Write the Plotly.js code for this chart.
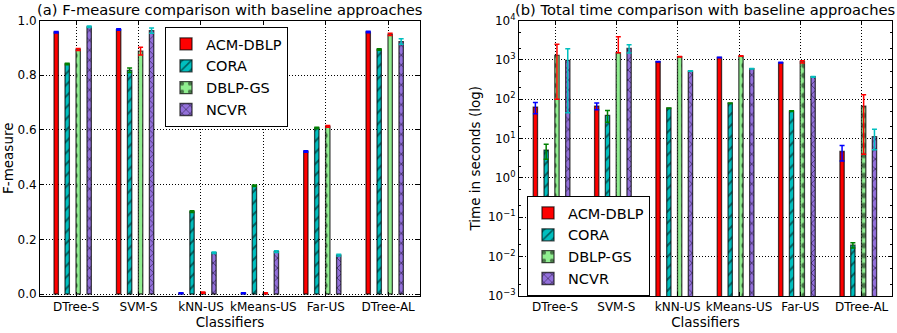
<!DOCTYPE html>
<html>
<head>
<meta charset="utf-8">
<script src="https://cdn.plot.ly/plotly-3.0.1.min.js"></script>
<style>html,body{margin:0;padding:0;background:#fff;}#chart{width:897px;height:333px;}</style>
</head>
<body>
<div id="chart"></div>
<script>
// ---- data ----
const categories = ['DTree-S', 'SVM-S', 'kNN-US', 'kMeans-US', 'Far-US', 'DTree-AL'];
const seriesNames = ['ACM-DBLP', 'CORA', 'DBLP-GS', 'NCVR'];

// (a) F-measure
const fAcm  = [0.957, 0.967, 0.003, 0.003, 0.521, 0.958];
const fCora = [0.841, 0.818, 0.301, 0.396, 0.607, 0.894];
const fDblp = [0.894, 0.888, 0.005, 0.003, 0.613, 0.949];
const fNcvr = [0.977, 0.963, 0.151, 0.155, 0.142, 0.923];
const fAcmErr  = [0.003, 0.003, 0.002, 0.002, 0.003, 0.003];
const fCoraErr = [0.003, 0.008, 0.003, 0.003, 0.003, 0.003];
const fDblpErr = [0.004, 0.014, 0.002, 0.002, 0.003, 0.004];
const fNcvrErr = [0.003, 0.010, 0.003, 0.003, 0.003, 0.010];

// (b) Total time (seconds)
const tAcm  = [63, 67, 895, 1150, 850, 4.7];
const tCora = [5.1, 39, 59, 79, 50, 0.0196];
const tDblp = [1300, 1510, 1200, 1250, 895, 67];
const tNcvr = [975, 1950, 520, 595, 372, 11.2];
const tAcmErr  = [20, 13, 15, 20, 15, 2];
const tCoraErr = [2.1, 13, 1, 1, 1, 0.003];
const tDblpErrPlus  = [1200, 2370, 20, 20, 60, 63];
const tDblpErrMinus = [1200, 0, 20, 20, 60, 63];
const tNcvrErr = [930, 460, 10, 10, 8, 6];

// ---- styles ----
const fills = ['#ff0000', '#00bfbf', '#90ee90', '#9370db'];
const errColors = ['#0000ff', '#008000', '#ff0000', '#00bfbf'];
const patterns = [
  {shape: ''},
  {shape: '/', fgcolor: '#000', bgcolor: '#00bfbf', size: 8, solidity: 0.25, fillmode: 'overlay'},
  {shape: '.', fgcolor: '#000', bgcolor: '#90ee90', size: 10, solidity: 0.22, fillmode: 'overlay'},
  {shape: 'x', fgcolor: '#000', bgcolor: '#9370db', size: 7, solidity: 0.25, fillmode: 'overlay'}
];
const barW = 0.07;
const centers = [-0.32, -0.144, 0.032, 0.208];
const FONT = 'DejaVu Sans, Verdana, sans-serif';

const fVals = [fAcm, fCora, fDblp, fNcvr];
const fErrs = [fAcmErr, fCoraErr, fDblpErr, fNcvrErr];
const tVals = [tAcm, tCora, tDblp, tNcvr];
const tErrP = [tAcmErr, tCoraErr, tDblpErrPlus, tNcvrErr];
const tErrM = [tAcmErr, tCoraErr, tDblpErrMinus, tNcvrErr];

const traces = [];
for (let k = 0; k < 4; k++) {
  traces.push({
    type: 'bar', name: seriesNames[k], x: categories, y: fVals[k],
    xaxis: 'x', yaxis: 'y', legend: 'legend',
    width: barW, offset: centers[k] - barW / 2,
    marker: {color: fills[k], line: {color: 'rgba(0,0,0,0.7)', width: 1.3}, pattern: patterns[k]},
    error_y: {type: 'data', array: fErrs[k], visible: true, color: errColors[k], thickness: 1.5, width: 2.5}
  });
}
for (let k = 0; k < 4; k++) {
  traces.push({
    type: 'bar', name: seriesNames[k], x: categories, y: tVals[k],
    xaxis: 'x2', yaxis: 'y2', legend: 'legend2',
    width: barW, offset: centers[k] - barW / 2,
    marker: {color: fills[k], line: {color: 'rgba(0,0,0,0.7)', width: 1.3}, pattern: patterns[k]},
    error_y: {type: 'data', symmetric: false, array: tErrP[k], arrayminus: tErrM[k], visible: true, color: errColors[k], thickness: 1.5, width: 2.5}
  });
}

const axisCommon = {
  showline: true, linecolor: '#000', linewidth: 1, mirror: 'allticks',
  ticks: 'inside', ticklen: 4, tickcolor: '#000',
  showgrid: true, gridcolor: '#000', griddash: '1px,2px', gridwidth: 1,
  zeroline: false, tickfont: {family: FONT, size: 12, color: '#000'}
};
const yDom = [1 - 296 / 333, 1 - 20.5 / 333];

const layout = {
  width: 897, height: 333,
  margin: {l: 0, r: 0, t: 0, b: 0},
  paper_bgcolor: '#fff', plot_bgcolor: '#fff',
  barmode: 'overlay', showlegend: true,
  font: {family: FONT, color: '#000'},
  xaxis: Object.assign({}, axisCommon, {
    domain: [40 / 897, 420 / 897], type: 'category', range: [-0.58, 5.51],
    anchor: 'y', automargin: false,
    title: {text: 'Classifiers', font: {family: FONT, size: 13.5}, standoff: 2}
  }),
  yaxis: Object.assign({}, axisCommon, {
    domain: yDom, range: [-0.0073, 1.0], anchor: 'x', automargin: false,
    tickvals: [0, 0.2, 0.4, 0.6, 0.8, 1.0], tickformat: '.1f',
    title: {text: 'F-measure', font: {family: FONT, size: 13.5}, standoff: 4}
  }),
  xaxis2: Object.assign({}, axisCommon, {
    domain: [519 / 897, 892 / 897], type: 'category', range: [-0.587, 5.494],
    anchor: 'y2', automargin: false,
    title: {text: 'Classifiers', font: {family: FONT, size: 13.5}, standoff: 2}
  }),
  yaxis2: Object.assign({}, axisCommon, {
    domain: yDom, type: 'log', range: [-3, 4], anchor: 'x2', automargin: false,
    tickvals: [0.001, 0.01, 0.1, 1, 10, 100, 1000, 10000],
    ticktext: ['10<sup>\u22123</sup>', '10<sup>\u22122</sup>', '10<sup>\u22121</sup>', '10<sup>0</sup>', '10<sup>1</sup>', '10<sup>2</sup>', '10<sup>3</sup>', '10<sup>4</sup>'],
    minor: {ticks: 'inside', ticklen: 2, tickcolor: '#000', showgrid: false},
    title: {text: 'Time in seconds (log)', font: {family: FONT, size: 13.5}, standoff: 4}
  }),
  legend: {
    x: 165 / 897, y: 1 - 27 / 333, xanchor: 'left', yanchor: 'top',
    bgcolor: '#fff', bordercolor: '#000', borderwidth: 1,
    font: {family: FONT, size: 14.5, color: '#000'}
  },
  legend2: {
    x: 527 / 897, y: 1 - 196 / 333, xanchor: 'left', yanchor: 'top',
    bgcolor: '#fff', bordercolor: '#000', borderwidth: 1,
    font: {family: FONT, size: 14.5, color: '#000'}
  },
  annotations: [
    {text: '(a) F-measure comparison with baseline approaches', xref: 'paper', yref: 'paper',
     x: 230 / 897, y: 1 - 10 / 333, xanchor: 'center', yanchor: 'middle', showarrow: false,
     font: {family: FONT, size: 14.7, color: '#000'}},
    {text: '(b) Total time comparison with baseline approaches', xref: 'paper', yref: 'paper',
     x: 705 / 897, y: 1 - 10 / 333, xanchor: 'center', yanchor: 'middle', showarrow: false,
     font: {family: FONT, size: 14.7, color: '#000'}}
  ]
};

Plotly.newPlot('chart', traces, layout, {staticPlot: true, displayModeBar: false});
</script>
</body>
</html>
